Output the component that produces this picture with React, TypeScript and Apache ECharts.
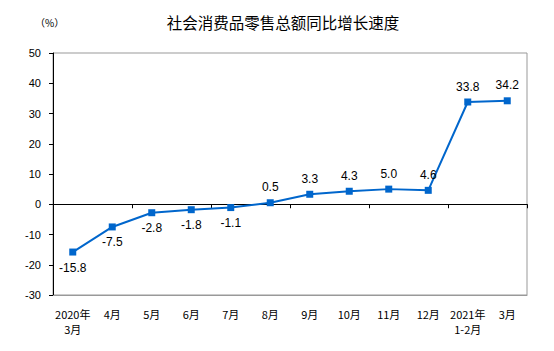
import React, { useEffect, useRef } from "react";
import * as echarts from "echarts";

const categories = [
  "2020年\n3月", "4月", "5月", "6月", "7月", "8月", "9月", "10月", "11月", "12月", "2021年\n1-2月", "3月",
];
const growth = [-15.8, -7.5, -2.8, -1.8, -1.1, 0.5, 3.3, 4.3, 5.0, 4.6, 33.8, 34.2];
const yMin = -30;
const yMax = 50;
const yStep = 10;

export default function App() {
  const ref = useRef<HTMLDivElement>(null);
  useEffect(() => {
    if (!ref.current) return;
    const chart = echarts.init(ref.current, undefined, { renderer: "svg" });
    const cjk = "'Noto Sans CJK SC', sans-serif";
    chart.setOption({
      animation: false,
      title: {
        text: "社会消费品零售总额同比增长速度",
        left: 278,
        textAlign: "center",
        top: 9,
        textStyle: { fontFamily: cjk, fontSize: 15.5, fontWeight: "normal", color: "#000" },
      },
      graphic: [
        {
          type: "text",
          left: 35,
          top: 17,
          style: { text: "（%）", font: "10px 'Noto Sans CJK SC'", fill: "#000" },
        },
      ],
      grid: {
        left: 53,
        right: 27,
        top: 53,
        bottom: 56,
        show: true,
        borderColor: "#999",
        borderWidth: 1,
        backgroundColor: "transparent",
      },
      xAxis: [
        {
          type: "category",
          data: categories,
          position: "bottom",
          boundaryGap: true,
          axisLine: { onZero: false, lineStyle: { color: "#999", width: 1 } },
          axisTick: { show: false },
          axisLabel: {
            interval: 0,
            margin: 11,
            fontFamily: cjk,
            fontSize: 11,
            lineHeight: 15,
            color: "#000",
          },
        },
        {
          type: "category",
          data: categories,
          position: "top",
          boundaryGap: true,
          axisLine: { onZero: true, lineStyle: { color: "#000", width: 1 } },
          axisTick: { show: true, inside: true, length: 4, lineStyle: { color: "#000" } },
          axisLabel: { show: false },
        },
      ],
      yAxis: {
        type: "value",
        min: yMin,
        max: yMax,
        interval: yStep,
        splitLine: { show: false },
        axisLine: { show: true, onZero: false, lineStyle: { color: "#000", width: 1 } },
        axisTick: { show: true, length: 4, lineStyle: { color: "#000" } },
        axisLabel: { margin: 12, fontFamily: "'Liberation Sans', Arial, sans-serif", fontSize: 11, color: "#000" },
      },
      series: [
        {
          type: "line",
          xAxisIndex: 0,
          data: growth.map((v) => ({
            value: v,
            label: { position: v < 0 ? "bottom" : "top" },
          })),
          symbol: "rect",
          symbolSize: 7,
          lineStyle: { color: "#0066cc", width: 2 },
          itemStyle: { color: "#0066cc" },
          label: {
            show: true,
            distance: 6,
            fontFamily: "'Liberation Sans', Arial, sans-serif",
            fontSize: 12,
            color: "#000",
            formatter: (p: any) => Number(p.value).toFixed(1),
          },
        },
      ],
    });
    return () => chart.dispose();
  }, []);
  return (
    <div
      ref={ref}
      style={{ position: "absolute", left: 0, top: 0, width: 554, height: 351 }}
    />
  );
}
